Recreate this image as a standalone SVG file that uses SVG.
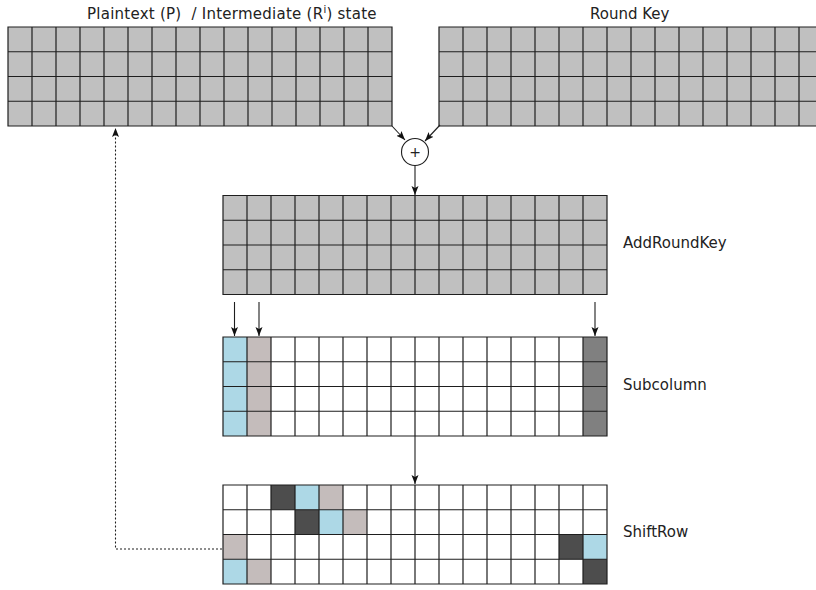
<svg xmlns="http://www.w3.org/2000/svg" xmlns:xlink="http://www.w3.org/1999/xlink" width="816" height="590" viewBox="0 0 816 590">
<style>
  .lbl { font-family: "DejaVu Sans", Verdana, sans-serif; font-size: 15px; fill: #222; }
  .gl { fill: none; stroke: #1e1e1e; stroke-width: 1.2; }
  .bg-gray { fill: #c0c0c0; }
  .bg-white { fill: #ffffff; }
  .blue { fill: #add8e6; }
  .pink { fill: #c4bcbb; }
  .dark { fill: #4d4d4d; }
  .mid { fill: #808080; }
  .conn { fill: none; stroke: #1e1e1e; stroke-width: 1.1; }
  .dash { stroke-dasharray: 2 2; }
</style>
<defs>
  <marker id="ah" markerUnits="userSpaceOnUse" markerWidth="10" markerHeight="10" viewBox="0 0 10 10" refX="9" refY="5" orient="auto">
    <path d="M0 1.5 L9 5 L0 8.5 L2 5 Z" fill="#111"/>
  </marker>
  <path id="grid" class="gl" d="M0 0H384V99H0Z M24 0V99M48 0V99M72 0V99M96 0V99M120 0V99M144 0V99M168 0V99M192 0V99M216 0V99M240 0V99M264 0V99M288 0V99M312 0V99M336 0V99M360 0V99 M0 24.75H384M0 49.5H384M0 74.25H384"/>
</defs>
<rect width="816" height="590" fill="#ffffff"/>

<g id="plaintext">
  <text class="lbl" x="87" y="19" xml:space="preserve" letter-spacing="0.25">Plaintext (P)  / Intermediate (R<tspan font-size="10" dy="-6">i</tspan><tspan dy="6">) state</tspan></text>
  <rect class="bg-gray" x="8" y="27" width="384" height="99"/>
  <use xlink:href="#grid" x="8" y="27"/>
</g>

<g id="roundkey">
  <text class="lbl" x="590" y="19">Round Key</text>
  <rect class="bg-gray" x="439" y="27" width="384" height="99"/>
  <use xlink:href="#grid" x="439" y="27"/>
</g>

<g id="xor">
  <circle cx="415" cy="152" r="13.5" fill="#ffffff" stroke="#1e1e1e" stroke-width="1.1"/>
  <text x="415" y="157" text-anchor="middle" style="font-family:'DejaVu Sans',sans-serif;font-size:14px;fill:#222">+</text>
</g>

<g id="addroundkey">
  <rect class="bg-gray" x="223" y="195.5" width="384" height="99"/>
  <use xlink:href="#grid" x="223" y="195.5"/>
  <text class="lbl" x="623" y="248">AddRoundKey</text>
</g>

<g id="subcolumn">
  <rect class="bg-white" x="223" y="337" width="384" height="99"/>
  <rect class="blue" x="223" y="337" width="24" height="99"/>
  <rect class="pink" x="247" y="337" width="24" height="99"/>
  <rect class="mid" x="583" y="337" width="24" height="99"/>
  <use xlink:href="#grid" x="223" y="337"/>
  <text class="lbl" x="623" y="390">Subcolumn</text>
</g>

<g id="shiftrow">
  <rect class="bg-white" x="223" y="485" width="384" height="99"/>
  <g transform="translate(223,485)">
    <rect class="dark" x="48" y="0" width="24" height="24.75"/>
    <rect class="blue" x="72" y="0" width="24" height="24.75"/>
    <rect class="pink" x="96" y="0" width="24" height="24.75"/>
    <rect class="dark" x="72" y="24.75" width="24" height="24.75"/>
    <rect class="blue" x="96" y="24.75" width="24" height="24.75"/>
    <rect class="pink" x="120" y="24.75" width="24" height="24.75"/>
    <rect class="pink" x="0" y="49.5" width="24" height="24.75"/>
    <rect class="dark" x="336" y="49.5" width="24" height="24.75"/>
    <rect class="blue" x="360" y="49.5" width="24" height="24.75"/>
    <rect class="blue" x="0" y="74.25" width="24" height="24.75"/>
    <rect class="pink" x="24" y="74.25" width="24" height="24.75"/>
    <rect class="dark" x="360" y="74.25" width="24" height="24.75"/>
  </g>
  <use xlink:href="#grid" x="223" y="485"/>
  <text class="lbl" x="623" y="537">ShiftRow</text>
</g>

<g id="connectors">
  <path class="conn" d="M392 126 L405 140" marker-end="url(#ah)"/>
  <path class="conn" d="M440 125 L425 141" marker-end="url(#ah)"/>
  <path class="conn" d="M415 165.5 V195" marker-end="url(#ah)"/>
  <path class="conn" d="M234.5 302 V336" marker-end="url(#ah)"/>
  <path class="conn" d="M259 302 V336" marker-end="url(#ah)"/>
  <path class="conn" d="M595 302 V336" marker-end="url(#ah)"/>
  <path class="conn" d="M415 436 V484" marker-end="url(#ah)"/>
  <path class="conn dash" d="M222 549 H115.5 V128" marker-end="url(#ah)"/>
</g>
</svg>
